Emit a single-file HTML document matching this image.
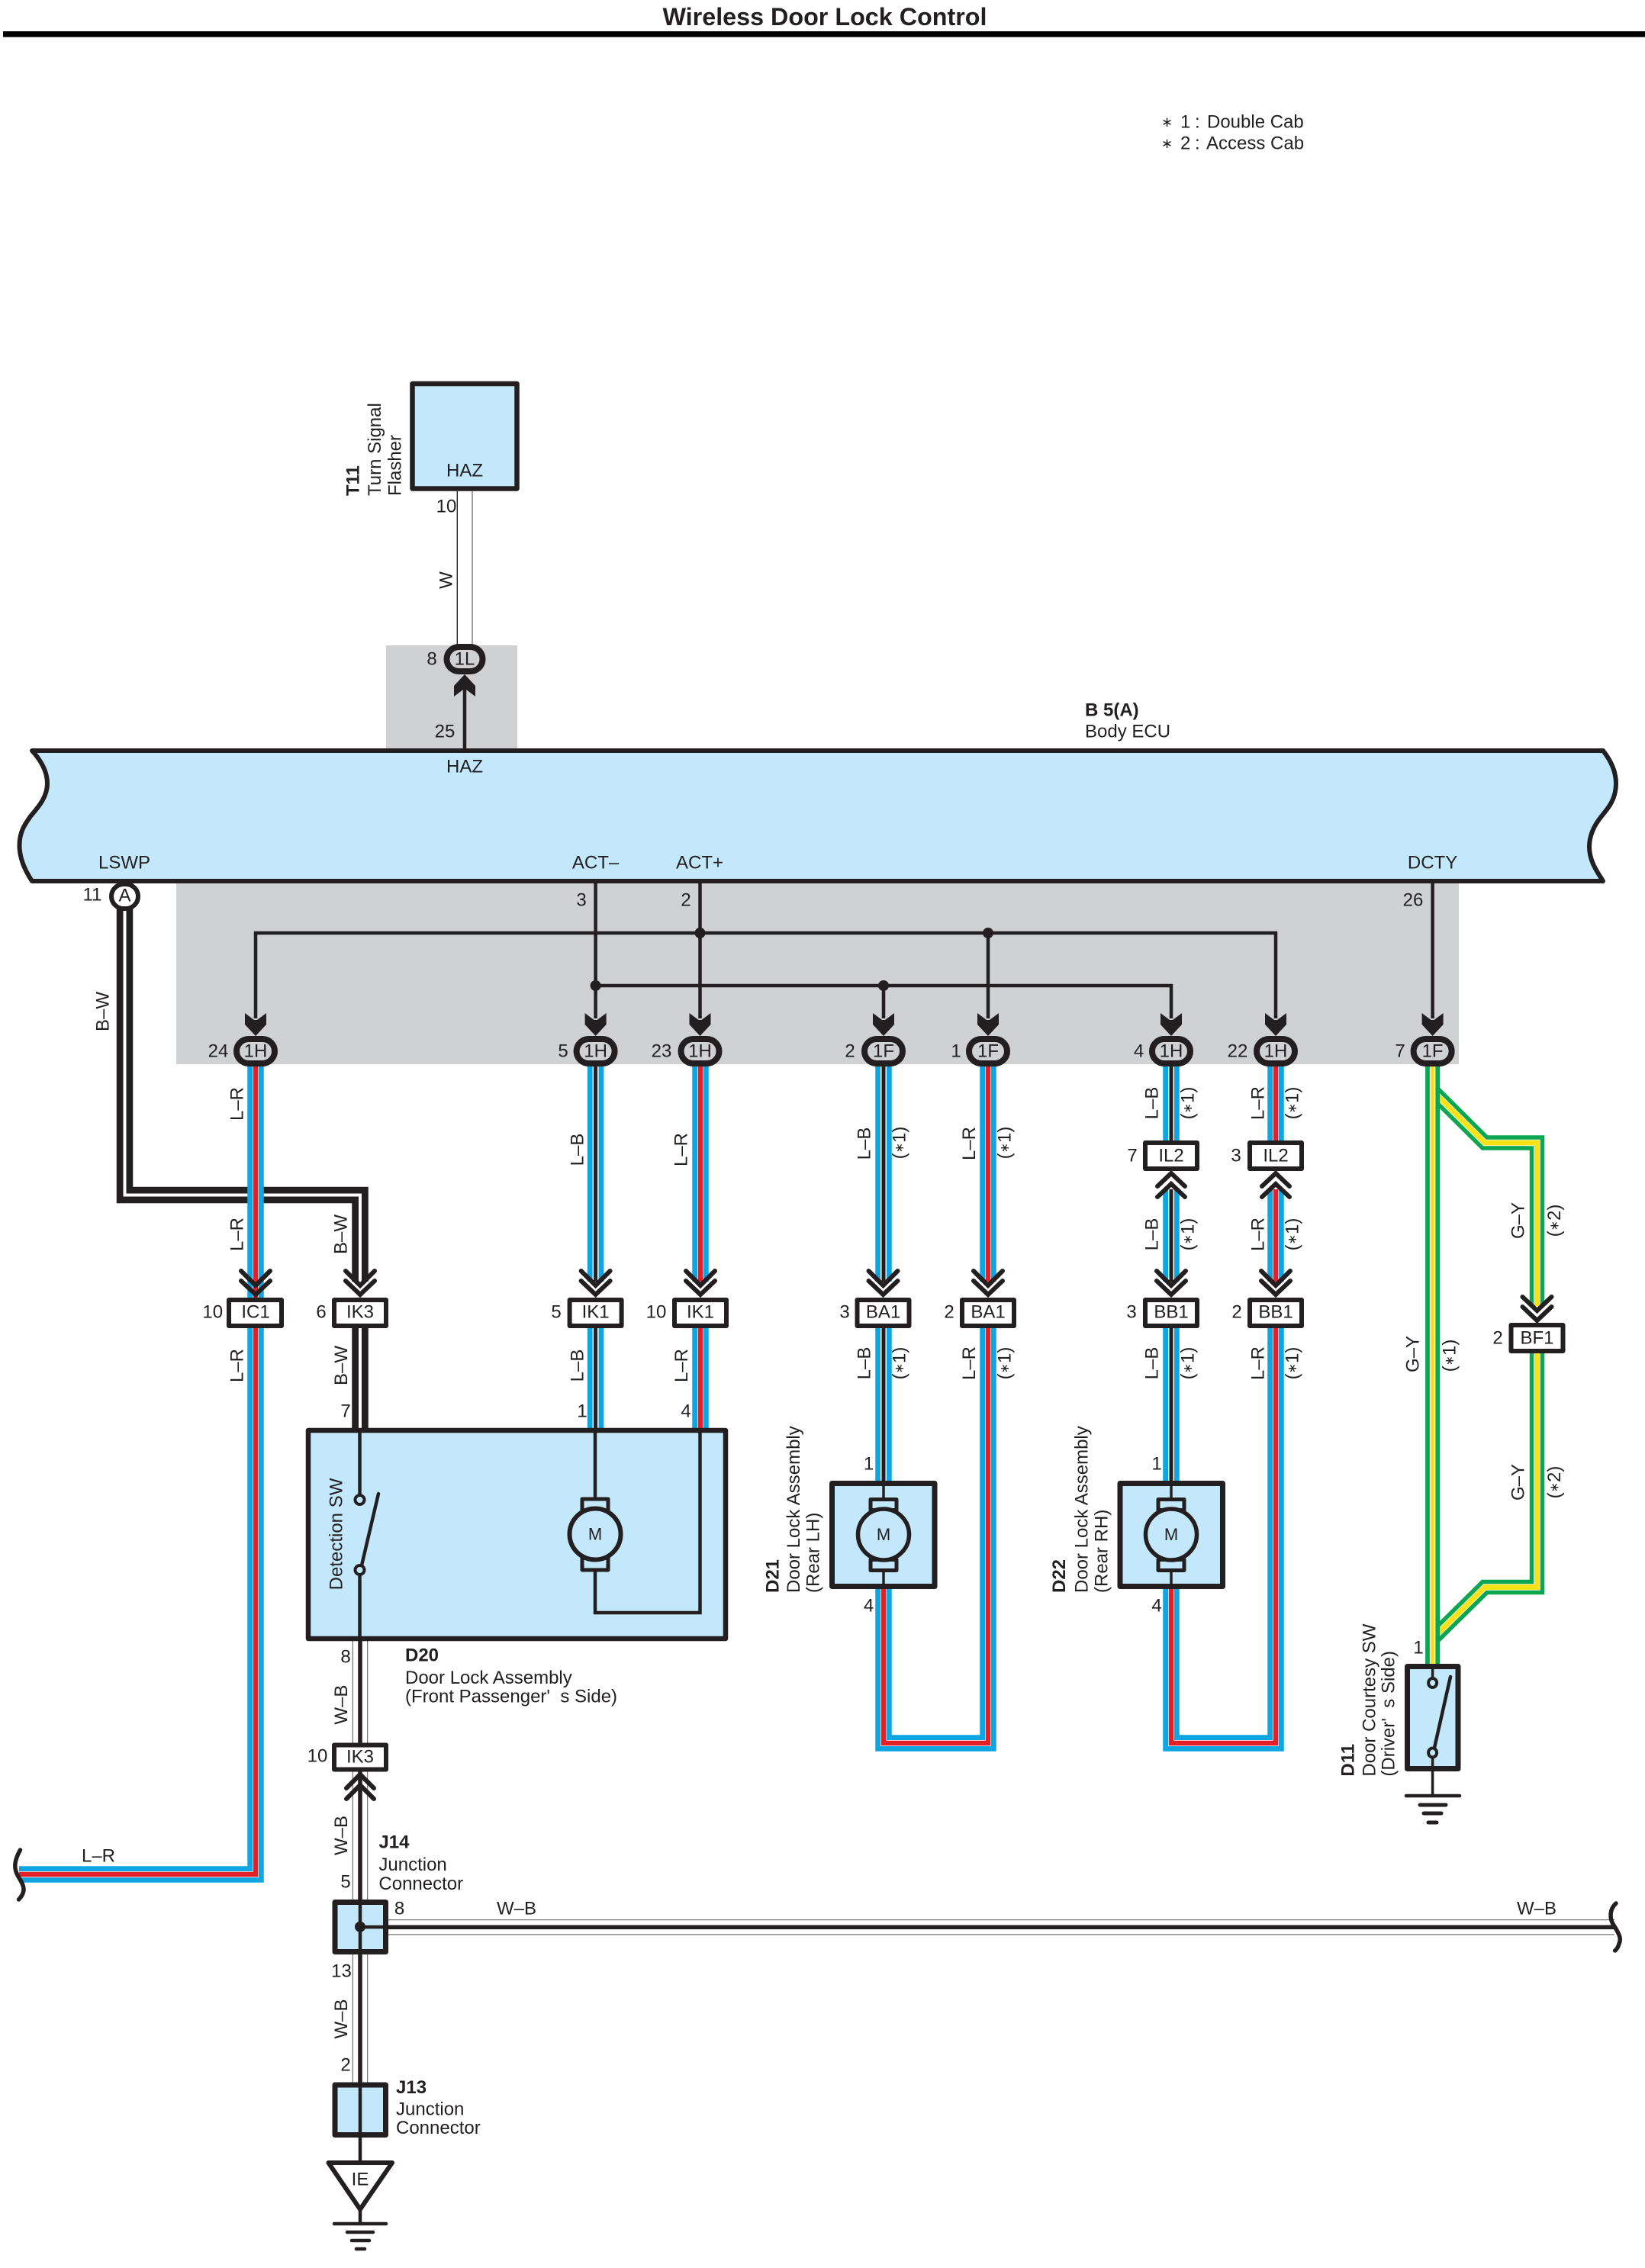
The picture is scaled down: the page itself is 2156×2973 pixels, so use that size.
<!DOCTYPE html>
<html><head><meta charset="utf-8"><title>Wireless Door Lock Control</title>
<style>
html,body{margin:0;padding:0;background:#fff}
svg{display:block}
text{font-family:"Liberation Sans",sans-serif;font-size:24px;fill:#231f20;dominant-baseline:central}
tspan.s{font-size:16px}
.m{text-anchor:middle}
.b{font-weight:bold}
.w{fill:none;stroke-linejoin:miter}
.k{fill:none;stroke:#231f20;stroke-width:4.5;stroke-linejoin:miter}
.c{fill:none;stroke:#231f20;stroke-width:6;stroke-linecap:round;stroke-linejoin:miter}
.box{stroke:#231f20;stroke-linejoin:round}
.bl{fill:#c4e8fb}
.g{stroke:#231f20;stroke-width:4.5;stroke-linecap:round}
</style></head><body>
<svg xmlns="http://www.w3.org/2000/svg" width="2156" height="2973" viewBox="0 0 2156 2973">
<rect width="2156" height="2973" fill="#fff"/>
<text class="m b" x="1081" y="22" style="font-size:32.3px">Wireless Door Lock Control</text>
<rect x="4" y="41" width="2152" height="7.6" fill="#000"/>
<text x="1522" y="160" style="font-size:18px">∗</text><text x="1547" y="160">1</text><text x="1566" y="160">:</text><text x="1582" y="160">Double Cab</text>
<text x="1522" y="188" style="font-size:18px">∗</text><text x="1547" y="188">2</text><text x="1566" y="188">:</text><text x="1581" y="188">Access Cab</text>

<!-- gray zones -->
<rect x="506" y="846" width="172" height="138" fill="#cfd1d3"/>
<rect x="231" y="1155" width="1681" height="240" fill="#cfd1d3"/>

<!-- W wire top -->
<path d="M599.3,644V846" stroke="#231f20" stroke-width="1.4"/>
<path d="M619,644V846" stroke="#777" stroke-width="1.4"/>

<!-- B-W wire -->
<g class="w">
<path d="M163.5,1190V1566.5H472V1680M472,1740V1875" stroke="#231f20" stroke-width="21.5" fill="none"/>
<path d="M163.5,1190V1566.5H472V1680M472,1740V1875" stroke="#fff" stroke-width="4" fill="none"/>
</g>

<!-- L-R wires -->
<g class="w" fill="none">
<g stroke="#0ea5e3" stroke-width="21.5">
<path d="M335,1397V2457H25"/>
<path d="M918,1397V1680M918,1740V1875"/>
<path d="M1295,1397V1680M1295,1740V2285H1158V2083"/>
<path d="M1672,1397V1495M1672,1559V1680M1672,1740V2285H1535V2083"/>
<path d="M780.6,1397V1680M780.6,1740V1875"/>
<path d="M1158,1397V1680M1158,1740V1944"/>
<path d="M1535,1397V1495M1535,1559V1680M1535,1740V1944"/>
</g>
<g stroke="#fff" stroke-width="8">
<path d="M335,1397V2457H25"/>
<path d="M918,1397V1680M918,1740V1875"/>
<path d="M1295,1397V1680M1295,1740V2285H1158V2083"/>
<path d="M1672,1397V1495M1672,1559V1680M1672,1740V2285H1535V2083"/>
<path d="M780.6,1397V1680M780.6,1740V1875"/>
<path d="M1158,1397V1680M1158,1740V1944"/>
<path d="M1535,1397V1495M1535,1559V1680M1535,1740V1944"/>
</g>
<g stroke="#e3202a" stroke-width="6.5">
<path d="M335,1397V2457H25"/>
<path d="M918,1397V1680M918,1740V1875"/>
<path d="M1295,1397V1680M1295,1740V2285H1158V2083"/>
<path d="M1672,1397V1495M1672,1559V1680M1672,1740V2285H1535V2083"/>
</g>
<g stroke="#231f20" stroke-width="5">
<path d="M780.6,1397V1680M780.6,1740V1875"/>
<path d="M1158,1397V1680M1158,1740V1944"/>
<path d="M1535,1397V1495M1535,1559V1680M1535,1740V1944"/>
</g>
</g>

<!-- G-Y wires -->
<g class="w" fill="none">
<g stroke="#0aa651" stroke-width="19.5">
<path d="M1877.6,1430L1946,1498H2014.5V1712"/>
<path d="M2014.5,1774V2080.5H1946L1877.6,2148"/>
</g>
<g stroke="#fff" stroke-width="8.5">
<path d="M1877.6,1430L1946,1498H2014.5V1712"/>
<path d="M2014.5,1774V2080.5H1946L1877.6,2148"/>
</g>
<g stroke="#f9e216" stroke-width="7">
<path d="M1877.6,1430L1946,1498H2014.5V1712"/>
<path d="M2014.5,1774V2080.5H1946L1877.6,2148"/>
</g>
<path d="M1877.6,1397V2184" stroke="#0aa651" stroke-width="19"/>
<path d="M1877.6,1397V2184" stroke="#fff" stroke-width="7.5"/>
<path d="M1877.6,1397V2184" stroke="#f9e216" stroke-width="5.5"/>
</g>

<!-- W-B wires -->
<g fill="none">
<path d="M472,2151V2285M472,2322V2490M472,2562V2730M509,2526.3H2116" stroke="#777" stroke-width="20.5"/>
<path d="M472,2151V2285M472,2322V2490M472,2562V2730M509,2526.3H2116" stroke="#fff" stroke-width="18"/>
<path d="M472,2151V2285M472,2322V2490M472,2562V2730M509,2526.3H2116" stroke="#231f20" stroke-width="5.5"/>
</g>

<!-- ECU -->
<path class="box bl" stroke-width="6" d="M42,984H2101C2112,998 2118,1013 2118,1027C2118,1050 2105,1062 2099,1070C2090,1081 2083,1095 2083,1110C2083,1130 2095,1145 2101,1155H42C32,1140 25.500,1125 25.500,1108C25.500,1090 33,1080 40,1070C50,1058 62,1045 62,1027C62,1010 52,995 42,984Z"/>

<!-- T11 -->
<rect class="box bl" stroke-width="6.5" x="540.500" y="503" width="137" height="137.500"/>

<!-- bus lines -->
<path class="k" d="M609,981V895"/>
<path class="k" d="M335,1335V1223H1672V1335"/>
<path class="k" d="M780.6,1157V1335M917.5,1157V1335M780.6,1292H1535V1335M1158,1292V1335M1295,1223V1335M1877.6,1157V1335"/>
<g fill="#231f20">
<circle cx="917.5" cy="1223" r="7"/><circle cx="1295" cy="1223" r="7"/><circle cx="780.6" cy="1292" r="7"/><circle cx="1158" cy="1292" r="7"/>
<polygon points="595,913 595,899 609,884 623,899 623,913 611,904 607,904"/>
<polygon points="321,1328 321,1343 335,1358 349,1343 349,1328 337,1337 333,1337"/>
<polygon points="766.6,1328 766.6,1343 780.6,1358 794.6,1343 794.6,1328 782.6,1337 778.6,1337"/>
<polygon points="903.5,1328 903.5,1343 917.5,1358 931.5,1343 931.5,1328 919.5,1337 915.5,1337"/>
<polygon points="1144,1328 1144,1343 1158,1358 1172,1343 1172,1328 1160,1337 1156,1337"/>
<polygon points="1281,1328 1281,1343 1295,1358 1309,1343 1309,1328 1297,1337 1293,1337"/>
<polygon points="1521,1328 1521,1343 1535,1358 1549,1343 1549,1328 1537,1337 1533,1337"/>
<polygon points="1658,1328 1658,1343 1672,1358 1686,1343 1686,1328 1674,1337 1670,1337"/>
<polygon points="1863.6,1328 1863.6,1343 1877.6,1358 1891.6,1343 1891.6,1328 1879.6,1337 1875.6,1337"/>
</g>

<!-- ovals -->
<g stroke="#231f20" stroke-width="8" fill="#cfd1d3">
<rect x="585.5" y="848" width="47" height="32" rx="16"/>
<rect x="310" y="1362" width="50" height="32" rx="16"/>
<rect x="755.6" y="1362" width="50" height="32" rx="16"/>
<rect x="892.5" y="1362" width="50" height="32" rx="16"/>
<rect x="1133" y="1362" width="50" height="32" rx="16"/>
<rect x="1270" y="1362" width="50" height="32" rx="16"/>
<rect x="1510" y="1362" width="50" height="32" rx="16"/>
<rect x="1647" y="1362" width="50" height="32" rx="16"/>
<rect x="1852.6" y="1362" width="50" height="32" rx="16"/>
<rect x="146" y="1159" width="35" height="32" rx="16" fill="#fff" stroke-width="6"/>
</g>
<g class="m">
<text class="m" x="609" y="864">1L</text>
<text class="m" x="163.5" y="1174">A</text>
<text class="m" x="335" y="1378">1H</text><text class="m" x="780.6" y="1378">1H</text><text class="m" x="917.5" y="1378">1H</text>
<text class="m" x="1158" y="1378">1F</text><text class="m" x="1295" y="1378">1F</text>
<text class="m" x="1535" y="1378">1H</text><text class="m" x="1672" y="1378">1H</text><text class="m" x="1877.6" y="1378">1F</text>
</g>

<!-- connector boxes -->
<g class="box" fill="#fff" stroke-width="6">
<rect x="300" y="1704" width="69" height="34"/>
<rect x="438" y="1704" width="68" height="34"/>
<rect x="746.6" y="1704" width="68" height="34"/>
<rect x="884" y="1704" width="68" height="34"/>
<rect x="1123.5" y="1704" width="68" height="34"/>
<rect x="1261" y="1704" width="68" height="34"/>
<rect x="1501" y="1704" width="68" height="34"/>
<rect x="1638" y="1704" width="68" height="34"/>
<rect x="1501" y="1498" width="68" height="34"/>
<rect x="1638" y="1498" width="68" height="34"/>
<rect x="1980.5" y="1737" width="68" height="34"/>
<rect x="438" y="2287.500" width="68" height="32"/>
</g>
<text class="m" x="335" y="1720">IC1</text><text class="m" x="472" y="1720">IK3</text><text class="m" x="780.6" y="1720">IK1</text><text class="m" x="918" y="1720">IK1</text>
<text class="m" x="1157.5" y="1720">BA1</text><text class="m" x="1295" y="1720">BA1</text><text class="m" x="1535" y="1720">BB1</text><text class="m" x="1672" y="1720">BB1</text>
<text class="m" x="1535" y="1515">IL2</text><text class="m" x="1672" y="1515">IL2</text><text class="m" x="2014.5" y="1754">BF1</text><text class="m" x="472" y="2303">IK3</text>

<!-- chevrons -->
<g class="c">
<path d="M316,1666L335,1685L354,1666M316,1679L335,1697L354,1679"/>
<path d="M453,1666L472,1685L491,1666M453,1679L472,1697L491,1679"/>
<path d="M761.6,1666L780.6,1685L799.6,1666M761.6,1679L780.6,1697L799.6,1679"/>
<path d="M899,1666L918,1685L937,1666M899,1679L918,1697L937,1679"/>
<path d="M1138.5,1666L1157.5,1685L1176.5,1666M1138.5,1679L1157.5,1697L1176.5,1679"/>
<path d="M1276,1666L1295,1685L1314,1666M1276,1679L1295,1697L1314,1679"/>
<path d="M1516,1666L1535,1685L1554,1666M1516,1679L1535,1697L1554,1679"/>
<path d="M1653,1666L1672,1685L1691,1666M1653,1679L1672,1697L1691,1679"/>
<path d="M1995.5,1700L2014.500,1718L2033.500,1700M1995.5,1713L2014.500,1731L2033.500,1713"/>
<path d="M1517,1555L1535,1538L1553,1555M1517,1569L1535,1552L1553,1569"/>
<path d="M1654,1555L1672,1538L1690,1555M1654,1569L1672,1552L1690,1569"/>
<path d="M454,2344L472,2326L490,2344M454,2358L472,2340L490,2358"/>
</g>

<!-- D20 -->
<rect class="box bl" stroke-width="6.5" x="404" y="1875" width="547" height="273"/>
<path class="k" d="M471.5,1872V1960M471.5,2064V2151"/>
<path class="k" d="M780,1872V1965M780,2058V2114H917.5V1872"/>
<circle cx="471.5" cy="1966" r="6" fill="#c4e8fb" stroke="#231f20" stroke-width="4"/>
<circle cx="471.5" cy="2058" r="6" fill="#c4e8fb" stroke="#231f20" stroke-width="4"/>
<path d="M474,2052L496,1958" stroke="#231f20" stroke-width="4.5" stroke-linecap="round"/>
<text class="m" x="441" y="2011" transform="rotate(-90 441 2011)">Detection SW</text>
<g transform="translate(780,2011)">
<rect x="-17" y="-46" width="34" height="16" fill="#c4e8fb" stroke="#231f20" stroke-width="5" stroke-linejoin="round"/>
<rect x="-17" y="31" width="34" height="16" fill="#c4e8fb" stroke="#231f20" stroke-width="5" stroke-linejoin="round"/>
<circle r="33.500" fill="#c4e8fb" stroke="#231f20" stroke-width="6"/>
<text class="m" x="0" y="0" style="font-size:22px">M</text>
</g>

<!-- D21 -->
<rect class="box bl" stroke-width="7" x="1090.500" y="1944.500" width="134.500" height="135"/>
<path class="k" style="stroke-width:3.5" d="M1158,1944V1965M1158,2058V2080"/>
<g transform="translate(1158,2011.500)">
<rect x="-17" y="-46" width="34" height="14" fill="#c4e8fb" stroke="#231f20" stroke-width="5" stroke-linejoin="round"/>
<rect x="-17" y="33" width="34" height="14" fill="#c4e8fb" stroke="#231f20" stroke-width="5" stroke-linejoin="round"/>
<circle r="33.500" fill="#c4e8fb" stroke="#231f20" stroke-width="5.5"/>
<text class="m" x="0" y="0" style="font-size:22px">M</text>
</g>

<!-- D22 -->
<rect class="box bl" stroke-width="7" x="1468" y="1944.500" width="134.500" height="135"/>
<path class="k" style="stroke-width:3.5" d="M1535,1944V1965M1535,2058V2080"/>
<g transform="translate(1535,2011.500)">
<rect x="-17" y="-46" width="34" height="14" fill="#c4e8fb" stroke="#231f20" stroke-width="5" stroke-linejoin="round"/>
<rect x="-17" y="33" width="34" height="14" fill="#c4e8fb" stroke="#231f20" stroke-width="5" stroke-linejoin="round"/>
<circle r="33.500" fill="#c4e8fb" stroke="#231f20" stroke-width="5.5"/>
<text class="m" x="0" y="0" style="font-size:22px">M</text>
</g>

<!-- D11 -->
<rect class="box bl" stroke-width="7" x="1844.500" y="2184.500" width="66.500" height="134"/>
<path class="k" style="stroke-width:3.5" d="M1877.6,2184V2200M1877.6,2303V2354"/>
<ellipse cx="1877.6" cy="2206" rx="5.5" ry="6" fill="#c4e8fb" stroke="#231f20" stroke-width="4"/>
<ellipse cx="1877.6" cy="2297.500" rx="5.5" ry="6" fill="#c4e8fb" stroke="#231f20" stroke-width="4"/>
<path d="M1880,2291L1901,2198" stroke="#231f20" stroke-width="4.5" stroke-linecap="round"/>
<g class="g"><path d="M1843,2354H1913"/><path d="M1861,2366H1895" stroke-width="5"/><path d="M1866,2377H1889" stroke-width="5"/><path d="M1872,2389H1883" stroke-width="5"/></g>

<!-- J14, J13, ground -->
<rect class="box bl" stroke-width="7" x="439" y="2493.500" width="66.500" height="65"/>
<rect class="box bl" stroke-width="7" x="439" y="2733" width="66.500" height="65.500"/>
<path class="k" d="M472,2490V2562M472,2526H509M472,2730V2834"/>
<circle cx="472" cy="2525.700" r="7" fill="#231f20"/>
<polygon points="430.500,2835 514,2835 472,2896" fill="#fff" stroke="#231f20" stroke-width="6" stroke-linejoin="round"/>
<text class="m" x="472" y="2857">IE</text>
<path class="k" d="M472,2896V2915"/>
<g class="g"><path d="M438,2915H506"/><path d="M455,2926H489"/><path d="M461,2937H484"/><path d="M467,2948H478"/></g>

<!-- squiggles -->
<path d="M26.500,2425C18,2440 18,2450 24,2460C30,2470 36,2478 24.500,2490" fill="none" stroke="#231f20" stroke-width="5.500" stroke-linecap="round"/>
<path d="M2118,2495C2109,2503 2110,2515 2114,2522C2120,2532 2126,2540 2122,2548C2121,2552 2119,2555 2116.700,2557" fill="none" stroke="#231f20" stroke-width="5.500" stroke-linecap="round"/>

<!-- ECU labels -->
<text class="b" x="1422" y="931">B 5(A)</text><text x="1422" y="959">Body ECU</text>
<text class="m" x="609" y="617">HAZ</text><text class="m" x="609" y="1005">HAZ</text>
<text class="m" x="163" y="1131">LSWP</text><text class="m" x="780.6" y="1131">ACT–</text><text class="m" x="917" y="1131">ACT+</text><text class="m" x="1877.6" y="1131">DCTY</text>

<!-- pin numbers -->
<text class="m" x="585" y="664">10</text><text class="m" x="566" y="864">8</text><text class="m" x="583" y="959">25</text>
<text class="m" x="121" y="1173">11</text><text class="m" x="762" y="1180">3</text><text class="m" x="899" y="1180">2</text><text class="m" x="1852" y="1180">26</text>
<text class="m" x="286" y="1378">24</text><text class="m" x="738" y="1378">5</text><text class="m" x="867" y="1378">23</text><text class="m" x="1114" y="1378">2</text><text class="m" x="1253" y="1378">1</text><text class="m" x="1492.6" y="1378">4</text><text class="m" x="1622" y="1378">22</text><text class="m" x="1835" y="1378">7</text>
<text class="m" x="1484" y="1515">7</text><text class="m" x="1620" y="1515">3</text>
<text class="m" x="278.7" y="1720">10</text><text class="m" x="421" y="1720">6</text><text class="m" x="729" y="1720">5</text><text class="m" x="860" y="1720">10</text>
<text class="m" x="1107" y="1720">3</text><text class="m" x="1244" y="1720">2</text><text class="m" x="1483" y="1720">3</text><text class="m" x="1621" y="1720">2</text><text class="m" x="1963" y="1754">2</text>
<text class="m" x="453" y="1850">7</text><text class="m" x="763" y="1850">1</text><text class="m" x="899" y="1850">4</text>
<text class="m" x="1138.6" y="1919">1</text><text class="m" x="1138.6" y="2105">4</text><text class="m" x="1516" y="1919">1</text><text class="m" x="1516" y="2105">4</text><text class="m" x="1859" y="2160">1</text>
<text class="m" x="453" y="2172">8</text><text class="m" x="416" y="2302">10</text><text class="m" x="453" y="2467">5</text><text class="m" x="523.500" y="2502">8</text><text class="m" x="447.500" y="2584">13</text><text class="m" x="453" y="2707">2</text>

<!-- horizontal wire labels -->
<text class="m" x="129" y="2433">L–R</text><text class="m" x="677" y="2502">W–B</text><text class="m" x="2014" y="2502">W–B</text>

<!-- vertical wire labels -->
<text class="m" transform="rotate(-90 585 760.600)" x="585" y="760.600">W</text>
<text class="m" transform="rotate(-90 135 1326)" x="135" y="1326">B–W</text>
<text class="m" transform="rotate(-90 311 1447)" x="311" y="1447">L–R</text>
<text class="m" transform="rotate(-90 311 1618)" x="311" y="1618">L–R</text>
<text class="m" transform="rotate(-90 311 1790)" x="311" y="1790">L–R</text>
<text class="m" transform="rotate(-90 447 1618)" x="447" y="1618">B–W</text>
<text class="m" transform="rotate(-90 447.600 1790)" x="447.600" y="1790">B–W</text>
<text class="m" transform="rotate(-90 757 1507)" x="757" y="1507">L–B</text>
<text class="m" transform="rotate(-90 893 1507)" x="893" y="1507">L–R</text>
<text class="m" transform="rotate(-90 757 1790)" x="757" y="1790">L–B</text>
<text class="m" transform="rotate(-90 893.500 1790)" x="893.500" y="1790">L–R</text>
<text class="m" transform="rotate(-90 1133 1499)" x="1133" y="1499">L–B</text>
<text class="m" transform="rotate(-90 1179 1498)" x="1179" y="1498">(<tspan class="s">∗</tspan>1)</text>
<text class="m" transform="rotate(-90 1270.600 1499)" x="1270.600" y="1499">L–R</text>
<text class="m" transform="rotate(-90 1317 1498)" x="1317" y="1498">(<tspan class="s">∗</tspan>1)</text>
<text class="m" transform="rotate(-90 1133 1787)" x="1133" y="1787">L–B</text>
<text class="m" transform="rotate(-90 1179 1787)" x="1179" y="1787">(<tspan class="s">∗</tspan>1)</text>
<text class="m" transform="rotate(-90 1270.600 1787)" x="1270.600" y="1787">L–R</text>
<text class="m" transform="rotate(-90 1317 1787)" x="1317" y="1787">(<tspan class="s">∗</tspan>1)</text>
<text class="m" transform="rotate(-90 1510 1446)" x="1510" y="1446">L–B</text>
<text class="m" transform="rotate(-90 1557 1446)" x="1557" y="1446">(<tspan class="s">∗</tspan>1)</text>
<text class="m" transform="rotate(-90 1649 1446)" x="1649" y="1446">L–R</text>
<text class="m" transform="rotate(-90 1694 1446)" x="1694" y="1446">(<tspan class="s">∗</tspan>1)</text>
<text class="m" transform="rotate(-90 1510 1618)" x="1510" y="1618">L–B</text>
<text class="m" transform="rotate(-90 1557 1618)" x="1557" y="1618">(<tspan class="s">∗</tspan>1)</text>
<text class="m" transform="rotate(-90 1649 1618)" x="1649" y="1618">L–R</text>
<text class="m" transform="rotate(-90 1694 1618)" x="1694" y="1618">(<tspan class="s">∗</tspan>1)</text>
<text class="m" transform="rotate(-90 1510 1787)" x="1510" y="1787">L–B</text>
<text class="m" transform="rotate(-90 1557 1787)" x="1557" y="1787">(<tspan class="s">∗</tspan>1)</text>
<text class="m" transform="rotate(-90 1649 1787)" x="1649" y="1787">L–R</text>
<text class="m" transform="rotate(-90 1694 1787)" x="1694" y="1787">(<tspan class="s">∗</tspan>1)</text>
<text class="m" transform="rotate(-90 1990 1600)" x="1990" y="1600">G–Y</text>
<text class="m" transform="rotate(-90 2037.600 1600)" x="2037.600" y="1600">(<tspan class="s">∗</tspan>2)</text>
<text class="m" transform="rotate(-90 1990 1943)" x="1990" y="1943">G–Y</text>
<text class="m" transform="rotate(-90 2037.600 1943)" x="2037.600" y="1943">(<tspan class="s">∗</tspan>2)</text>
<text class="m" transform="rotate(-90 1852 1775)" x="1852" y="1775">G–Y</text>
<text class="m" transform="rotate(-90 1900 1777)" x="1900" y="1777">(<tspan class="s">∗</tspan>1)</text>
<text class="m" transform="rotate(-90 447.600 2234.600)" x="447.600" y="2234.600">W–B</text>
<text class="m" transform="rotate(-90 447.500 2406)" x="447.500" y="2406">W–B</text>
<text class="m" transform="rotate(-90 447.500 2646.500)" x="447.500" y="2646.500">W–B</text>

<!-- component labels -->
<text class="b" x="463" y="650" transform="rotate(-90 463 650)">T11</text>
<text x="491.600" y="650" transform="rotate(-90 491.600 650)">Turn Signal</text>
<text x="518" y="650" transform="rotate(-90 518 650)">Flasher</text>
<text class="b" x="531" y="2170">D20</text>
<text x="531" y="2199.400">Door Lock Assembly</text>
<text x="531" y="2224">(Front Passenger'&#160; s Side)</text>
<text class="b" x="1013" y="2088" transform="rotate(-90 1013 2088)">D21</text>
<text x="1040.500" y="2088" transform="rotate(-90 1040.500 2088)">Door Lock Assembly</text>
<text x="1066" y="2088" transform="rotate(-90 1066 2088)">(Rear LH)</text>
<text class="b" x="1388.600" y="2088" transform="rotate(-90 1388.600 2088)">D22</text>
<text x="1418" y="2088" transform="rotate(-90 1418 2088)">Door Lock Assembly</text>
<text x="1444" y="2088" transform="rotate(-90 1444 2088)">(Rear RH)</text>
<text class="b" x="1767" y="2328.600" transform="rotate(-90 1767 2328.600)">D11</text>
<text x="1795" y="2328.600" transform="rotate(-90 1795 2328.600)">Door Courtesy SW</text>
<text x="1820" y="2328.600" transform="rotate(-90 1820 2328.600)">(Driver'&#160; s Side)</text>
<text class="b" x="496.400" y="2415">J14</text>
<text x="496.400" y="2444.600">Junction</text>
<text x="496.400" y="2469.500">Connector</text>
<text class="b" x="519" y="2736.400">J13</text>
<text x="519" y="2765">Junction</text>
<text x="519" y="2789.400">Connector</text>
</svg>
</body></html>
